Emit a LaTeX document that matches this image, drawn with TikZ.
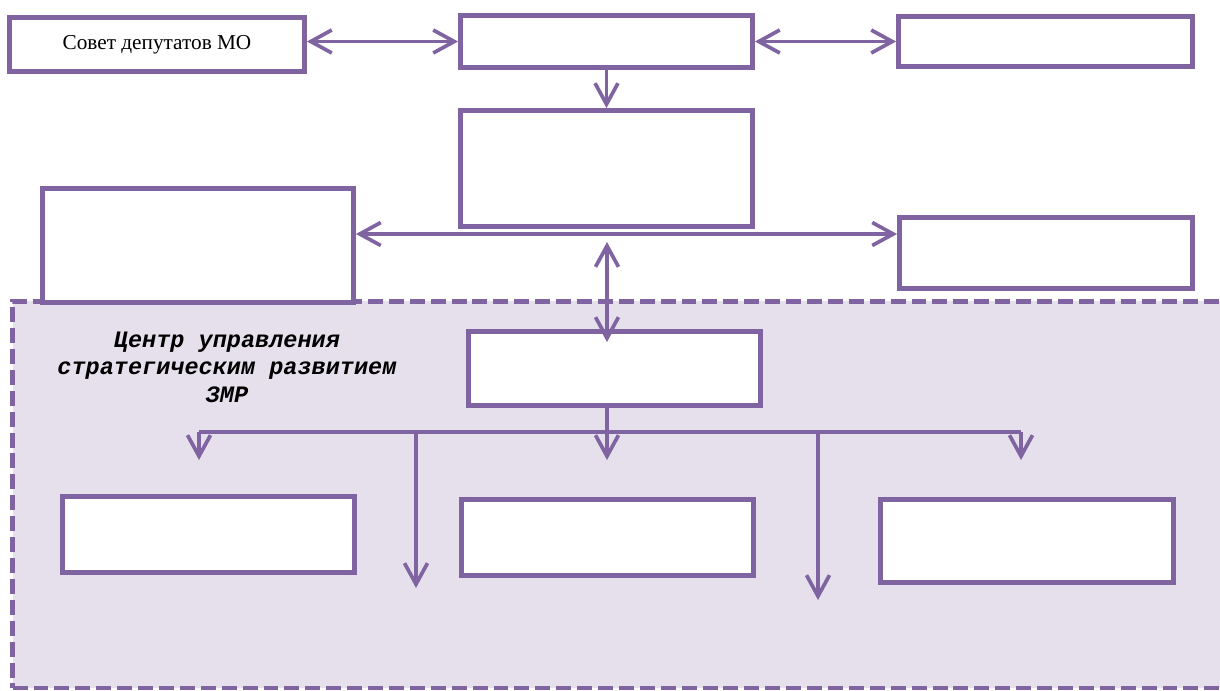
\documentclass[tikz,border=0pt]{standalone}
\usepackage{fontspec}
\setmainfont{Liberation Serif}
\newfontfamily\zonefont{Liberation Mono}
\usetikzlibrary{arrows.meta}
\definecolor{purp}{HTML}{8064A2}
\definecolor{lilac}{HTML}{E5E0EC}
\tikzstyle{box} = [draw=purp,fill=white,rectangle,line width=2.8pt,inner sep=0pt,align=center,text centered,font=\fontsize{12.1}{14}\selectfont]
\tikzstyle{zone} = [draw=purp,fill=lilac,rectangle,line width=2.8pt,dash pattern=on 8.5pt off 3.4pt,inner sep=0pt]
\tikzstyle{lbl} = [align=center,text centered,font=\zonefont\bfseries\itshape\fontsize{13.4}{15.6}\selectfont]
\tikzstyle{link} = [draw=purp,line width=2.1pt]

\begin{document}
\begin{tikzpicture}[x=0.02cm,y=-0.02cm,>={Straight Barb[length=0.42cm,width=0.46cm]}]
				\useasboundingbox (0,0) rectangle (1220,690);
				\node (zn) [zone,minimum width=24.3cm,minimum height=7.74cm] at (620,494.5) {};
				\node (ctl) [lbl] at (227,367) {Центр управления\\стратегическим развитием\\ЗМР};
				\node (sov) [box,minimum width=5.9cm,minimum height=1.08cm] at (157,44.5) {Совет депутатов МО};
				\node (hd) [box,minimum width=5.84cm,minimum height=1.04cm] at (606.5,41.5) {};
				\node (tr) [box,minimum width=5.88cm,minimum height=1cm] at (1045.5,41.5) {};
				\node (adm) [box,minimum width=5.84cm,minimum height=2.32cm] at (606.5,168.5) {};
				\node (lft) [box,minimum width=6.22cm,minimum height=2.28cm] at (198,245.5) {};
				\node (rgt) [box,minimum width=5.86cm,minimum height=1.42cm] at (1046,253) {};
				\node (ctr) [box,minimum width=5.84cm,minimum height=1.48cm] at (614.5,368.5) {};
				\node (b1) [box,minimum width=5.84cm,minimum height=1.52cm] at (208.5,534.5) {};
				\node (b2) [box,minimum width=5.84cm,minimum height=1.52cm] at (607.5,537.5) {};
				\node (b3) [box,minimum width=5.86cm,minimum height=1.66cm] at (1027,541) {};
				\coordinate (row) at (607,234);
				\coordinate (up) at (607,242);
				\coordinate (dn) at (607,342);
				\coordinate (bus) at (607,432);
				\coordinate (busl) at (199,432);
				\coordinate (busr) at (1021,432);
				\draw [link,<->] (sov.east |- hd.west) -- (hd.west);
				\draw [link,<->] (hd.east) -- (tr.west |- hd.east);
				\draw [link,->] (hd) -- (adm);
				\draw [link,<->] (lft.east |- row) -- (rgt.west |- row);
				\draw [link,<->] (up) -- (dn);
				\draw [link] (ctr.south -| bus) -- (bus);
				\draw [link] (busl) -- (busr);
				\foreach \x/\y [count=\i] in {199/460,416/588,607/460,818/600,1021/460}{
					\coordinate (s\i) at (\x,432);
					\coordinate (t\i) at (\x,\y);
					\draw [link,->] (s\i) -- (t\i);
				}
			\end{tikzpicture}
\end{document}
